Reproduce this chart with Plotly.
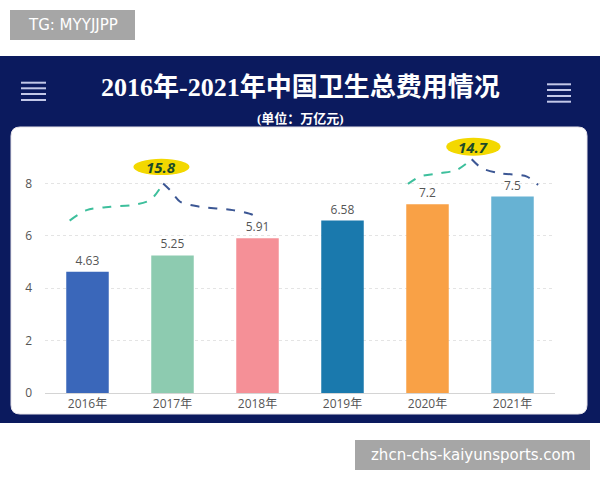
import plotly.graph_objects as go

# ---- data ----
years = ["2016年", "2017年", "2018年", "2019年", "2020年", "2021年"]
values = [4.63, 5.25, 5.91, 6.58, 7.2, 7.5]
bar_colors = ["#3a67ba", "#8dcbb0", "#f59097", "#1a79ad", "#f9a146", "#67b2d3"]
y_ticks = [0, 2, 4, 6, 8]
growth_labels = ["15.8", "14.7"]
title_text = "2016年-2021年中国卫生总费用情况"
subtitle_text = "(单位：万亿元)"
watermark_top = "TG: MYYJJPP"
watermark_bottom = "zhcn-chs-kaiyunsports.com"

# brace curves (data coords: x = bar index, y = value)
brace1_left_x = [-0.21, -0.01, 0.27, 0.54, 0.74, 0.89]
brace1_left_y = [6.58, 6.98, 7.11, 7.18, 7.37, 8.0]
brace1_right_x = [0.89, 0.97, 1.09, 1.32, 1.71, 1.95, 2.01]
brace1_right_y = [8.0, 7.75, 7.30, 7.11, 6.98, 6.79, 6.54]
brace2_left_x = [3.77, 3.91, 4.15, 4.34, 4.52]
brace2_left_y = [7.98, 8.26, 8.39, 8.51, 8.92]
brace2_right_x = [4.52, 4.64, 4.85, 5.17, 5.30]
brace2_right_y = [8.92, 8.58, 8.39, 8.26, 7.94]
ellipse1 = dict(x0=0.54, x1=1.20, y0=8.32, y1=8.94)
ellipse2 = dict(x0=4.22, x1=4.86, y0=9.06, y1=9.74)

W, H = 600, 480
ML, MR, MT, MB = 45, 45, 131, 87
PW, PH = W - ML - MR, H - MT - MB


def px(xp):
    return (xp - ML) / PW


def py(yp):
    return (H - MB - yp) / PH


fig = go.Figure()
x_idx = list(range(len(years)))
fig.add_trace(go.Bar(
    x=x_idx, y=values, marker=dict(color=bar_colors, line=dict(width=0)),
    text=[f"{v:g}" for v in values], textposition="outside",
    textfont=dict(color="#555555", size=12, family="Open Sans, Noto Sans CJK SC"),
    cliponaxis=False, hoverinfo="skip", showlegend=False,
))

teal = "#3dbf9c"
slate = "#3c5794"
for xs, ys, c in [(brace1_left_x, brace1_left_y, teal), (brace1_right_x, brace1_right_y, slate),
                  (brace2_left_x, brace2_left_y, teal), (brace2_right_x, brace2_right_y, slate)]:
    fig.add_trace(go.Scatter(x=xs, y=ys, mode="lines",
                             line=dict(color=c, width=2, dash="dash", shape="spline", smoothing=0.8),
                             hoverinfo="skip", showlegend=False, cliponaxis=False))

shapes = []
# navy panel
shapes.append(dict(type="rect", xref="paper", yref="paper", x0=px(0), x1=px(600),
                   y0=py(423), y1=py(56), fillcolor="#0b1a5e", line=dict(width=0), layer="below"))
# rounded white card
cx0, cx1, cy0, cy1, r = 11, 587, 127, 414, 9
path = (f"M {px(cx0 + r)},{py(cy0)} L {px(cx1 - r)},{py(cy0)} "
        f"Q {px(cx1)},{py(cy0)} {px(cx1)},{py(cy0 + r)} "
        f"L {px(cx1)},{py(cy1 - r)} Q {px(cx1)},{py(cy1)} {px(cx1 - r)},{py(cy1)} "
        f"L {px(cx0 + r)},{py(cy1)} Q {px(cx0)},{py(cy1)} {px(cx0)},{py(cy1 - r)} "
        f"L {px(cx0)},{py(cy0 + r)} Q {px(cx0)},{py(cy0)} {px(cx0 + r)},{py(cy0)} Z")
shapes.append(dict(type="path", xref="paper", yref="paper", path=path,
                   fillcolor="#ffffff", line=dict(color="#e8e4ea", width=1), layer="below"))
# hamburger icons
for (x0, x1, ys) in [(21, 46, [82.7, 88.3, 94, 100]), (547, 571, [84.3, 90, 96, 101.7])]:
    for yy in ys:
        shapes.append(dict(type="line", xref="paper", yref="paper", x0=px(x0), x1=px(x1),
                           y0=py(yy), y1=py(yy), line=dict(color="#c3c8e8", width=2), layer="above"))
# watermark boxes
shapes.append(dict(type="rect", xref="paper", yref="paper", x0=px(10), x1=px(135), y0=py(40), y1=py(10),
                   fillcolor="#a6a6a6", line=dict(width=0), layer="above"))
shapes.append(dict(type="rect", xref="paper", yref="paper", x0=px(355), x1=px(590), y0=py(470), y1=py(440),
                   fillcolor="#a6a6a6", line=dict(width=0), layer="above"))
# growth ellipses
for e in [ellipse1, ellipse2]:
    shapes.append(dict(type="circle", xref="x", yref="y", fillcolor="#f3d800",
                       line=dict(width=0), layer="above", **e))

annotations = [
    dict(text=f"<b>{title_text}</b>", xref="paper", yref="paper", x=px(300), y=py(87.5),
         showarrow=False, xanchor="center", yanchor="middle",
         font=dict(size=26, color="#ffffff", family="Liberation Serif, Noto Sans CJK SC")),
    dict(text=f"<b>{subtitle_text}</b>", xref="paper", yref="paper", x=px(300), y=py(118),
         showarrow=False, xanchor="center", yanchor="middle",
         font=dict(size=13, color="#ffffff", family="Liberation Serif, Noto Sans CJK SC")),
    dict(text=watermark_top, xref="paper", yref="paper", x=px(72.5), y=py(25), showarrow=False,
         xanchor="center", yanchor="middle",
         font=dict(size=15, color="#ffffff", family="DejaVu Sans, Liberation Sans")),
    dict(text=watermark_bottom, xref="paper", yref="paper", x=px(472.5), y=py(455), showarrow=False,
         xanchor="center", yanchor="middle",
         font=dict(size=15, color="#ffffff", family="DejaVu Sans, Liberation Sans")),
]
for lbl, e in zip(growth_labels, [ellipse1, ellipse2]):
    annotations.append(dict(text=f"<b><i>{lbl}</i></b>", xref="x", yref="y",
                            x=(e["x0"] + e["x1"]) / 2, y=(e["y0"] + e["y1"]) / 2,
                            showarrow=False, xanchor="center", yanchor="middle",
                            font=dict(size=15, color="#1b4a2a", family="Open Sans, Noto Sans")))

fig.update_layout(
    width=W, height=H, margin=dict(l=ML, r=MR, t=MT, b=MB),
    paper_bgcolor="#ffffff", plot_bgcolor="rgba(0,0,0,0)",
    bargap=0.5, shapes=shapes, annotations=annotations, showlegend=False,
    xaxis=dict(range=[-0.5, 5.5], tickvals=x_idx, ticktext=years, showgrid=False, zeroline=False,
               showline=True, linecolor="#d4d4d4", linewidth=1, ticks="",
               tickfont=dict(size=12, color="#555555", family="Open Sans, Noto Sans CJK SC")),
    yaxis=dict(range=[0, 10], tickvals=y_ticks, showgrid=True, gridcolor="#e4e4e4", griddash="dot",
               gridwidth=1, zeroline=False, ticks="", ticklabelstandoff=12,
               tickfont=dict(size=12, color="#555555", family="Open Sans, Noto Sans CJK SC")),
)

fig.write_html("out.html")
